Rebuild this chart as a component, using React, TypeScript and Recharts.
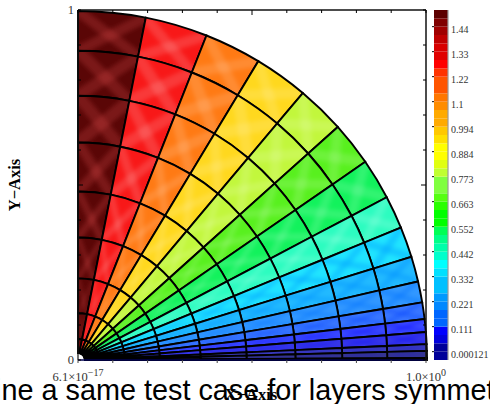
import React from 'react';
import { PieChart, Pie, Cell, Sector, ComposedChart, BarChart, Bar, XAxis, YAxis, Line } from 'recharts';

// Angular width of each wedge in degrees, top (90 deg) down to the x axis
const wedgeSpans = [11.2, 10.4, 9.5, 9.0, 8.0, 7.3, 6.8, 5.5, 5.1, 4.2, 3.5, 2.75, 2.15, 2.0, 1.1, 1.17, 0.33];
const wedgeColors = [
  '#5a0606', '#f81818', '#ff7a14', '#ffd81e', '#c2f73c', '#58f01e', '#12f25c', '#2cfcc0',
  '#20e4ff', '#22baff', '#3298ff', '#3a78ff', '#3c4cff', '#3a3ae6', '#4040b4', '#3a3a86', '#101030',
];
const wedgeGlows = [
  '#ff6060', '#ffffff', '#ffffff', '#ffffff', '#ffffff', '#ffffff', '#ffffff', '#ffffff',
  '#00a0ff', '#0090ff', '#0070ff', '#0040ff', '#0000ff', '#0000ff', '#0000ff', '#0000ff', '#000060',
];
const wedgeGlowOpacity = [0.2, 0.14, 0.13, 0.13, 0.13, 0.13, 0.13, 0.13, 0.4, 0.4, 0.4, 0.4, 0.4, 0.4, 0.4, 0.4, 0.4];
// Ring boundaries as a fraction of the outer radius
const ringEdges = [1, 0.886, 0.757, 0.623, 0.483, 0.351, 0.234, 0.134, 0.06, 0.02];

const frameTicks = [0, 0.1, 0.2, 0.3, 0.4, 0.5, 0.6, 0.7, 0.8, 0.9, 1];

// Colour bar, bottom band first
const bandColors = [
  '#000099', '#000099', '#0000dd', '#0000ff', '#0066ff', '#0066ff', '#0088ff', '#0099ff',
  '#00c0ff', '#00c0ff', '#00e0ff', '#00ffff', '#00ffcc', '#00ffaa', '#00ff88', '#00ff55',
  '#00ff00', '#00ff00', '#2aff00', '#55ff11', '#80ff40', '#80ff40', '#c0ff30', '#e0ff10',
  '#ffff00', '#ffff00', '#ffe000', '#ffc800', '#ffaa00', '#ffaa00', '#ff8c00', '#ff7700',
  '#ff5500', '#ff5500', '#ff3300', '#ff0000', '#e00000', '#d80000', '#bf0000', '#a00000',
  '#800000', '#5c0000',
];
const bandTicks = [1, 4, 7, 10, 13, 16, 19, 22, 25, 28, 31, 34, 37, 40];
const bandLabels = [
  '0.000121', '0.111', '0.221', '0.332', '0.442', '0.552', '0.663',
  '0.773', '0.884', '0.994', '1.1', '1.22', '1.33', '1.44',
];

const W = 490;
const H = 404;
const ORIGIN_X = 78;
const ORIGIN_Y = 360;
const RADIUS = 349;
const SERIF = '"Liberation Serif", serif';
const TICK_GAP = 8; // recharts puts custom ticks this far off the axis line

const wedgeData = wedgeSpans.map((span, i) => ({ name: `w${i}`, span }));
const bandRow = [Object.fromEntries(bandColors.map((_, i) => [`b${i}`, 1]))];
const layer: React.CSSProperties = { position: 'absolute', left: 0, top: 0 };

const polar = (cx: number, cy: number, r: number, deg: number) => ({
  x: cx + r * Math.cos((deg * Math.PI) / 180),
  y: cy - r * Math.sin((deg * Math.PI) / 180),
});

// One cell of the mesh: flat colour, soft cross from corner to corner, black outline
const MeshCell = (props: any) => {
  const { cx, cy, innerRadius, outerRadius, startAngle, endAngle, fill, index } = props;
  const base = { cx, cy, innerRadius, outerRadius, startAngle, endAngle };
  const id = `mesh-${Math.round(outerRadius)}-${index}`;
  const a = polar(cx, cy, innerRadius, startAngle);
  const b = polar(cx, cy, outerRadius, endAngle);
  const c = polar(cx, cy, innerRadius, endAngle);
  const d = polar(cx, cy, outerRadius, startAngle);
  const arc = (((outerRadius + innerRadius) / 2) * Math.abs(startAngle - endAngle) * Math.PI) / 180;
  const w = Math.min(outerRadius - innerRadius, arc) * 0.26;
  return (
    <g>
      <clipPath id={id}>
        <Sector {...base} />
      </clipPath>
      <Sector {...base} fill={fill} stroke="none" />
      <g clipPath={`url(#${id})`}>
        <g filter="url(#meshBlur)" stroke={wedgeGlows[index]} strokeWidth={w} strokeOpacity={wedgeGlowOpacity[index]}>
          <line x1={a.x} y1={a.y} x2={b.x} y2={b.y} />
          <line x1={c.x} y1={c.y} x2={d.x} y2={d.y} />
        </g>
      </g>
      <Sector {...base} fill="none" stroke="#000" strokeWidth={1.9} />
    </g>
  );
};

const FrameTick = (props: any) => {
  const { payload, side } = props;
  const v = payload.value;
  const len = v === 0.5 ? 5 : 3;
  if (side === 'top') {
    const y = props.y + TICK_GAP;
    return <line x1={props.x} y1={y} x2={props.x} y2={y + len} stroke="#000" />;
  }
  if (side === 'right') {
    const x = props.x - TICK_GAP;
    return <line x1={x} y1={props.y} x2={x - len} y2={props.y} stroke="#000" />;
  }
  if (side === 'left') {
    const x = props.x + TICK_GAP;
    return (
      <g>
        <line x1={x} y1={props.y} x2={x + len} y2={props.y} stroke="#000" />
        {(v === 0 || v === 1) && (
          <text x={x - 4} y={props.y + 4} textAnchor="end" fontSize={12.5} fontFamily={SERIF} fill="#333">{v}</text>
        )}
      </g>
    );
  }
  const y = props.y - TICK_GAP;
  return (
    <g>
      <line x1={props.x} y1={y} x2={props.x} y2={y + 3} stroke="#444" />
      {v === 0 && (
        <text x={props.x} y={y + 21} textAnchor="middle" fontSize={12.5} fontFamily={SERIF} fill="#333">
          6.1×10<tspan dy={-5} fontSize={10}>−17</tspan>
        </text>
      )}
      {v === 1 && (
        <text x={props.x} y={y + 21} textAnchor="middle" fontSize={12.5} fontFamily={SERIF} fill="#333">
          1.0×10<tspan dy={-5} fontSize={10}>0</tspan>
        </text>
      )}
    </g>
  );
};

const BandTick = (props: any) => {
  const { x, y, payload, index } = props;
  return (
    <g>
      <line x1={x - 24} y1={y} x2={x - 22} y2={y} stroke="#000" />
      <text x={x - 5} y={y + 6} fontSize={10} fontFamily={SERIF} fill="#333">
        {bandLabels[index ?? bandTicks.indexOf(payload.value)]}
      </text>
    </g>
  );
};

export default function App() {
  const pad = { left: ORIGIN_X - 1, top: 9, right: W - 426 - 1, bottom: H - ORIGIN_Y - 1 };
  return (
    <div style={{ position: 'fixed', left: 0, top: 0, width: W, height: H, overflow: 'hidden', background: '#fff' }}>
      <div style={layer}>
        <PieChart width={W} height={H} margin={{ top: 0, right: 0, bottom: 0, left: 0 }}>
          {ringEdges.slice(0, -1).map((edge, ring) => (
            <Pie
              key={ring}
              data={wedgeData}
              dataKey="span"
              nameKey="name"
              cx={ORIGIN_X}
              cy={ORIGIN_Y}
              startAngle={90}
              endAngle={0}
              paddingAngle={0}
              outerRadius={edge * RADIUS}
              innerRadius={ringEdges[ring + 1] * RADIUS}
              stroke="#000"
              shape={MeshCell}
              isAnimationActive={false}
            >
              {wedgeColors.map((color, i) => (
                <Cell key={i} fill={color} />
              ))}
            </Pie>
          ))}
        </PieChart>
      </div>

      <div style={layer}>
        <ComposedChart width={W} height={H} margin={pad} data={[{ x: 0, y: 0 }, { x: 1, y: 1 }]}>
          <XAxis xAxisId="b" dataKey="x" type="number" domain={[0, 1]} ticks={frameTicks} interval={0} height={1} tickLine={false} axisLine={{ stroke: '#000050', strokeWidth: 1.5 }} tick={<FrameTick side="bottom" />} />
          <XAxis xAxisId="t" dataKey="x" type="number" orientation="top" domain={[0, 1]} ticks={frameTicks} interval={0} height={1} tickLine={false} axisLine={{ stroke: '#111', strokeWidth: 1.5 }} tick={<FrameTick side="top" />} />
          <YAxis yAxisId="l" type="number" domain={[0, 1]} ticks={frameTicks} interval={0} width={1} tickLine={false} axisLine={{ stroke: '#111', strokeWidth: 1.2 }} tick={<FrameTick side="left" />} />
          <YAxis yAxisId="r" type="number" orientation="right" domain={[0, 1]} ticks={frameTicks} interval={0} width={1} tickLine={false} axisLine={{ stroke: '#111', strokeWidth: 1.5 }} tick={<FrameTick side="right" />} />
          <Line xAxisId="b" yAxisId="l" dataKey="y" stroke="none" dot={false} legendType="none" isAnimationActive={false} />
          <Line xAxisId="t" yAxisId="r" dataKey="y" stroke="none" dot={false} legendType="none" isAnimationActive={false} />
        </ComposedChart>
      </div>

      <div style={layer}>
        <BarChart width={W} height={H} data={bandRow} barCategoryGap={0} margin={{ left: 434, top: 10, right: 0, bottom: H - ORIGIN_Y }}>
          <XAxis hide />
          <YAxis orientation="right" type="number" domain={[0, bandColors.length]} ticks={bandTicks} interval={0} width={42} tickLine={false} axisLine={{ stroke: '#999', strokeWidth: 1.2 }} tick={<BandTick />} />
          {bandColors.map((color, i) => (
            <Bar key={i} dataKey={`b${i}`} stackId="bar" fill={color} isAnimationActive={false} />
          ))}
        </BarChart>
      </div>

      <svg width={W} height={H} style={{ ...layer, pointerEvents: 'none' }}>
        <defs>
          <filter id="meshBlur" x="-30%" y="-30%" width="160%" height="160%">
            <feGaussianBlur stdDeviation="2.2" />
          </filter>
        </defs>
        <text transform="translate(20,185) rotate(-90)" textAnchor="middle" fontSize={16.5} fontWeight="bold" fontFamily={SERIF} fill="#000">Y−Axis</text>
        <text x={251} y={400} textAnchor="middle" fontSize={16.5} fontWeight="bold" fontFamily={SERIF} fill="#000">X−Axis</text>
        <text x={-49.7} y={400} fontSize={28.8} fontFamily='"Liberation Sans", sans-serif' fill="#000">Define a same test case for layers symmetry</text>
      </svg>
    </div>
  );
}
